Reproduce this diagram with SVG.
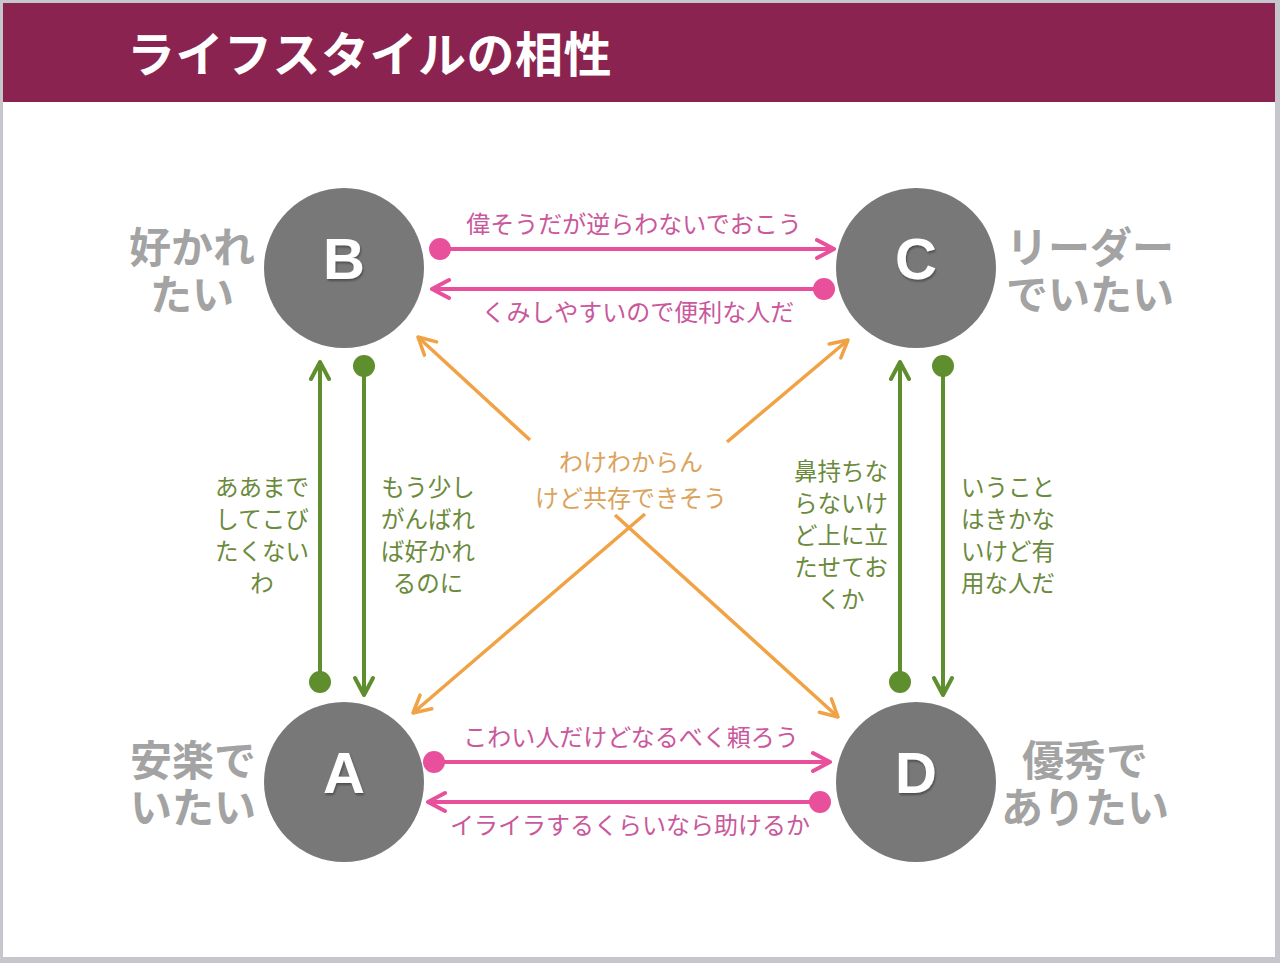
<svg xmlns="http://www.w3.org/2000/svg" width="1280" height="963" viewBox="0 0 1280 963">
<defs>
<style>
.jp{font-family:"Noto Sans CJK JP","Noto Sans",sans-serif;}
.title{font-size:48px;font-weight:700;fill:#ffffff;letter-spacing:0.5px;}
.side{font-size:42px;font-weight:700;fill:#a3a3a3;text-anchor:middle;}
.letter{font-family:"Liberation Sans",Arial,sans-serif;font-size:58px;font-weight:700;fill:#ffffff;text-anchor:middle;}
.pinkT{font-size:24px;fill:#c9589c;text-anchor:middle;}
.greenT{font-size:23.5px;fill:#6b8a3c;text-anchor:middle;}
.orangeT{font-size:24px;fill:#dba35c;text-anchor:middle;}
.node circle{fill:#787878;}
.pk{stroke:#e8509c;stroke-width:4;fill:none;}
.gr{stroke:#5f8e2e;stroke-width:4;fill:none;}
.or{stroke:#f0a244;stroke-width:3.5;fill:none;}
</style>
<marker id="ahP" viewBox="0 0 24 24" refX="22" refY="12" markerWidth="24" markerHeight="24" markerUnits="userSpaceOnUse" orient="auto">
<path d="M5,3 L22,12 L5,21" fill="none" stroke="#e8509c" stroke-width="4" stroke-linejoin="round" stroke-linecap="round"/>
</marker>
<marker id="dotP" viewBox="0 0 24 24" refX="12" refY="12" markerWidth="24" markerHeight="24" markerUnits="userSpaceOnUse" orient="auto">
<circle cx="12" cy="12" r="11" fill="#e8509c"/>
</marker>
<marker id="ahG" viewBox="0 0 24 24" refX="22" refY="12" markerWidth="24" markerHeight="24" markerUnits="userSpaceOnUse" orient="auto">
<path d="M5,3 L22,12 L5,21" fill="none" stroke="#5f8e2e" stroke-width="4" stroke-linejoin="round" stroke-linecap="round"/>
</marker>
<marker id="dotG" viewBox="0 0 24 24" refX="12" refY="12" markerWidth="24" markerHeight="24" markerUnits="userSpaceOnUse" orient="auto">
<circle cx="12" cy="12" r="11" fill="#5f8e2e"/>
</marker>
<marker id="ahO" viewBox="0 0 24 24" refX="22" refY="12" markerWidth="24" markerHeight="24" markerUnits="userSpaceOnUse" orient="auto">
<path d="M5,3 L22,12 L5,21" fill="none" stroke="#f0a244" stroke-width="3.5" stroke-linejoin="round" stroke-linecap="round"/>
</marker>
<filter id="sh" x="-20%" y="-20%" width="140%" height="140%">
<feDropShadow dx="1" dy="2" stdDeviation="1.2" flood-color="#000" flood-opacity="0.35"/>
</filter>
</defs>
<rect x="0" y="0" width="1280" height="963" fill="#c5c7cd"/>
<rect x="3" y="3" width="1272" height="954" fill="#ffffff"/>
<rect x="3" y="3" width="1272" height="99" fill="#8b2351"/>
<text class="jp title" x="127" y="72">ライフスタイルの相性</text>

<g id="connectors">
<line class="pk" x1="440" y1="249" x2="834" y2="249" marker-start="url(#dotP)" marker-end="url(#ahP)"/>
<line class="pk" x1="824" y1="289" x2="432" y2="289" marker-start="url(#dotP)" marker-end="url(#ahP)"/>
<line class="pk" x1="434" y1="762" x2="830" y2="762" marker-start="url(#dotP)" marker-end="url(#ahP)"/>
<line class="pk" x1="820" y1="802" x2="428" y2="802" marker-start="url(#dotP)" marker-end="url(#ahP)"/>
<line class="gr" x1="320" y1="682" x2="320" y2="362" marker-start="url(#dotG)" marker-end="url(#ahG)"/>
<line class="gr" x1="364" y1="366" x2="364" y2="695" marker-start="url(#dotG)" marker-end="url(#ahG)"/>
<line class="gr" x1="900" y1="682" x2="900" y2="362" marker-start="url(#dotG)" marker-end="url(#ahG)"/>
<line class="gr" x1="943" y1="366" x2="943" y2="695" marker-start="url(#dotG)" marker-end="url(#ahG)"/>
<line class="or" x1="530" y1="440" x2="418" y2="337" marker-end="url(#ahO)"/>
<line class="or" x1="615" y1="515" x2="838" y2="717" marker-end="url(#ahO)"/>
<line class="or" x1="727" y1="442" x2="848" y2="340" marker-end="url(#ahO)"/>
<line class="or" x1="645" y1="514" x2="413" y2="713" marker-end="url(#ahO)"/>
<text class="jp pinkT" x="634" y="233">偉そうだが逆らわないでおこう</text>
<text class="jp pinkT" x="638" y="321">くみしやすいので便利な人だ</text>
<text class="jp pinkT" x="631" y="746">こわい人だけどなるべく頼ろう</text>
<text class="jp pinkT" x="630" y="834">イライラするくらいなら助けるか</text>
<text class="jp greenT" x="262" y="496">ああまで<tspan x="262" dy="32">してこび</tspan><tspan x="262" dy="32">たくない</tspan><tspan x="262" dy="32">わ</tspan></text>
<text class="jp greenT" x="428" y="496">もう少し<tspan x="428" dy="32">がんばれ</tspan><tspan x="428" dy="32">ば好かれ</tspan><tspan x="428" dy="32">るのに</tspan></text>
<text class="jp greenT" x="841" y="480">鼻持ちな<tspan x="841" dy="32">らないけ</tspan><tspan x="841" dy="32">ど上に立</tspan><tspan x="841" dy="32">たせてお</tspan><tspan x="841" dy="32">くか</tspan></text>
<text class="jp greenT" x="1008" y="496">いうこと<tspan x="1008" dy="32">はきかな</tspan><tspan x="1008" dy="32">いけど有</tspan><tspan x="1008" dy="32">用な人だ</tspan></text>
<text class="jp orangeT" x="631" y="471">わけわからん<tspan x="631" dy="36">けど共存できそう</tspan></text>
</g>

<g id="node-B" class="node">
<circle cx="344" cy="268" r="80"/>
<text class="letter" x="344" y="279" filter="url(#sh)">B</text>
<text class="jp side" x="192" y="263">好かれ<tspan x="192" dy="47">たい</tspan></text>
</g>
<g id="node-C" class="node">
<circle cx="916" cy="268" r="80"/>
<text class="letter" x="916" y="279" filter="url(#sh)">C</text>
<text class="jp side" x="1090" y="263">リーダー<tspan x="1090" dy="47">でいたい</tspan></text>
</g>
<g id="node-A" class="node">
<circle cx="344" cy="782" r="80"/>
<text class="letter" x="344" y="793" filter="url(#sh)">A</text>
<text class="jp side" x="193" y="776">安楽で<tspan x="193" dy="47">いたい</tspan></text>
</g>
<g id="node-D" class="node">
<circle cx="916" cy="782" r="80"/>
<text class="letter" x="916" y="793" filter="url(#sh)">D</text>
<text class="jp side" x="1085" y="776">優秀で<tspan x="1085" dy="47">ありたい</tspan></text>
</g>
</svg>
